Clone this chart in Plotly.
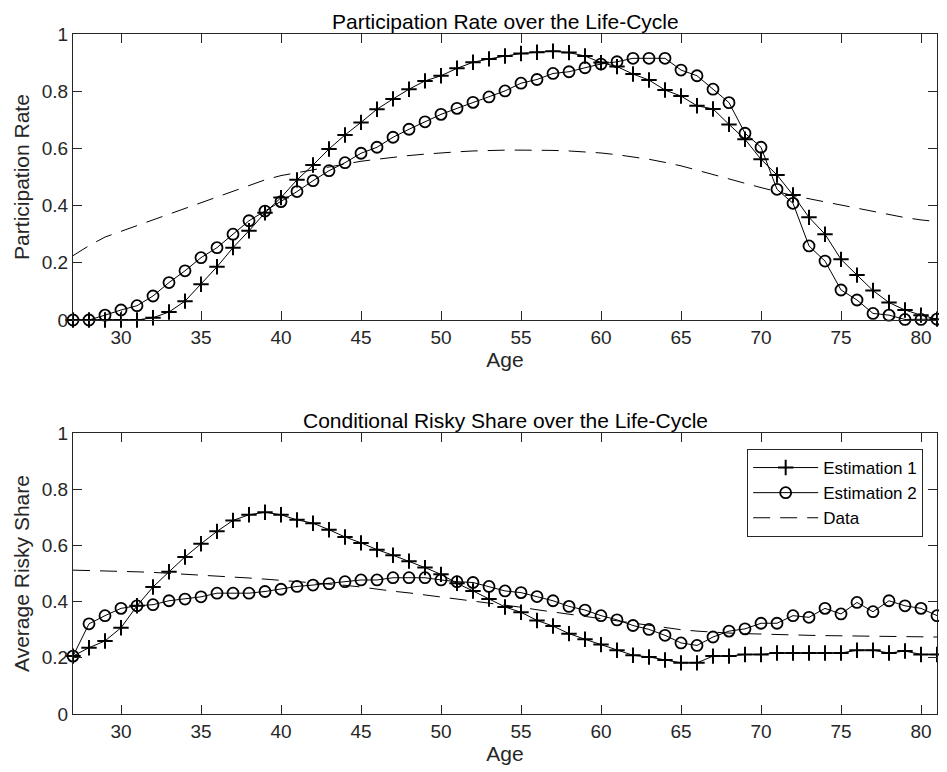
import plotly.graph_objects as go

ages = list(range(27, 82))

# Participation rate (top panel)
part_est1 = [0, 0, 0, 0, 0, 0.008, 0.028, 0.066, 0.125, 0.186,
             0.253, 0.312, 0.375, 0.428, 0.49, 0.542, 0.598, 0.647, 0.691, 0.737,
             0.773, 0.807, 0.836, 0.854, 0.88, 0.901, 0.913, 0.923, 0.932, 0.936,
             0.94, 0.935, 0.923, 0.9, 0.886, 0.86, 0.839, 0.804, 0.783, 0.749,
             0.738, 0.684, 0.632, 0.562, 0.507, 0.437, 0.359, 0.3, 0.212, 0.157,
             0.103, 0.061, 0.035, 0.017, 0.003]
part_est2 = [0, 0, 0.017, 0.035, 0.05, 0.084, 0.131, 0.172, 0.218, 0.253,
             0.3, 0.347, 0.381, 0.414, 0.449, 0.487, 0.522, 0.55, 0.583, 0.604,
             0.639, 0.667, 0.693, 0.719, 0.74, 0.761, 0.78, 0.801, 0.828, 0.841,
             0.862, 0.868, 0.882, 0.895, 0.903, 0.915, 0.915, 0.915, 0.874, 0.854,
             0.807, 0.76, 0.653, 0.604, 0.457, 0.408, 0.259, 0.206, 0.105, 0.07,
             0.023, 0.017, 0.002, 0.002, 0.003]
part_data = [0.225, 0.26, 0.29, 0.31, 0.33, 0.35, 0.37, 0.39, 0.41, 0.43,
             0.45, 0.47, 0.49, 0.505, 0.515, 0.525, 0.535, 0.545, 0.555, 0.562,
             0.569, 0.575, 0.58, 0.585, 0.588, 0.591, 0.593, 0.594, 0.594, 0.594,
             0.593, 0.591, 0.588, 0.584, 0.578, 0.571, 0.562, 0.551, 0.539, 0.524,
             0.508, 0.493, 0.478, 0.463, 0.449, 0.435, 0.424, 0.413, 0.402, 0.39,
             0.378, 0.367, 0.358, 0.35, 0.344]

# Conditional risky share (bottom panel)
share_est1 = [0.206, 0.236, 0.26, 0.307, 0.385, 0.452, 0.506, 0.559, 0.606, 0.65,
              0.689, 0.709, 0.718, 0.709, 0.691, 0.679, 0.656, 0.63, 0.609, 0.585,
              0.565, 0.544, 0.521, 0.497, 0.465, 0.438, 0.409, 0.381, 0.362, 0.333,
              0.313, 0.286, 0.266, 0.247, 0.227, 0.209, 0.203, 0.192, 0.182, 0.182,
              0.206, 0.206, 0.212, 0.212, 0.217, 0.217, 0.217, 0.217, 0.217, 0.227,
              0.227, 0.217, 0.224, 0.212, 0.212]
share_est2 = [0.206, 0.321, 0.35, 0.376, 0.385, 0.389, 0.403, 0.409, 0.417, 0.43,
              0.43, 0.43, 0.436, 0.444, 0.454, 0.459, 0.464, 0.471, 0.477, 0.477,
              0.485, 0.485, 0.485, 0.477, 0.471, 0.468, 0.454, 0.438, 0.432, 0.418,
              0.403, 0.383, 0.37, 0.35, 0.335, 0.315, 0.301, 0.28, 0.253, 0.244,
              0.274, 0.295, 0.303, 0.323, 0.323, 0.35, 0.344, 0.376, 0.356, 0.397,
              0.364, 0.403, 0.385, 0.376, 0.35]
share_data = [0.512, 0.511, 0.51, 0.508, 0.506, 0.504, 0.501, 0.498, 0.495, 0.492,
              0.488, 0.484, 0.48, 0.476, 0.472, 0.468, 0.463, 0.458, 0.452, 0.444,
              0.437, 0.431, 0.424, 0.417, 0.41, 0.403, 0.396, 0.388, 0.38, 0.371,
              0.363, 0.355, 0.347, 0.338, 0.33, 0.322, 0.314, 0.306, 0.3, 0.295,
              0.291, 0.288, 0.286, 0.284, 0.283, 0.281, 0.28, 0.279, 0.278, 0.277,
              0.276, 0.275, 0.275, 0.274, 0.274]

FONT = "Liberation Sans, Arial, sans-serif"
AX = "#262626"

fig = go.Figure()


def add_panel(e1, e2, d, xa, ya, legend):
    fig.add_trace(go.Scatter(
        x=ages, y=e1, xaxis=xa, yaxis=ya, name="Estimation 1", mode="lines+markers",
        line=dict(color="black", width=1),
        marker=dict(symbol="cross-thin", size=11, color="black",
                    line=dict(color="black", width=2)),
        showlegend=legend, cliponaxis=False))
    fig.add_trace(go.Scatter(
        x=ages, y=e2, xaxis=xa, yaxis=ya, name="Estimation 2", mode="lines+markers",
        line=dict(color="black", width=1),
        marker=dict(symbol="circle-open", size=11, color="black",
                    line=dict(color="black", width=1.8)),
        showlegend=legend, cliponaxis=False))
    fig.add_trace(go.Scatter(
        x=ages, y=d, xaxis=xa, yaxis=ya, name="Data", mode="lines",
        line=dict(color="black", width=1, dash="17px,10px"),
        showlegend=legend))


add_panel(part_est1, part_est2, part_data, "x", "y", False)
add_panel(share_est1, share_est2, share_data, "x2", "y2", True)

axis_common = dict(
    showline=True, linecolor=AX, linewidth=1, mirror="ticks",
    ticks="inside", ticklen=9, tickcolor=AX, tickwidth=1,
    showgrid=False, zeroline=False, automargin=False,
    tickfont=dict(family=FONT, size=19, color=AX),
)
title_font = dict(family=FONT, size=21, color=AX)

# page body adds an 8px margin, so the figure is drawn 8px smaller
fig.update_layout(
    width=939, height=764,
    paper_bgcolor="white", plot_bgcolor="white",
    margin=dict(l=65, r=10, t=26, b=58),
    font=dict(family=FONT, size=19, color="black"),
    xaxis=dict(domain=[0, 1], anchor="y", range=[27, 81], dtick=5, tick0=30,
               title=dict(text="Age", standoff=0, font=title_font), **axis_common),
    yaxis=dict(domain=[0.5794, 1], anchor="x", range=[0, 1], dtick=0.2,
               title=dict(text="Participation Rate", standoff=6, font=title_font),
               **axis_common),
    xaxis2=dict(domain=[0, 1], anchor="y2", range=[27, 81], dtick=5, tick0=30,
                title=dict(text="Age", standoff=0, font=title_font), **axis_common),
    yaxis2=dict(domain=[0, 0.4132], anchor="x2", range=[0, 1], dtick=0.2,
                title=dict(text="Average Risky Share", standoff=6, font=title_font),
                **axis_common),
    legend=dict(x=0.984, y=0.3897, xanchor="right", yanchor="top",
                bordercolor=AX, borderwidth=1, bgcolor="white",
                itemwidth=65, tracegroupgap=0,
                font=dict(family=FONT, size=17, color="black")),
    annotations=[
        dict(text="Participation Rate over the Life-Cycle", x=0.5, y=1,
             xref="paper", yref="paper", xanchor="center", yanchor="bottom",
             yshift=-1, showarrow=False, font=dict(family=FONT, size=21, color="black")),
        dict(text="Conditional Risky Share over the Life-Cycle", x=0.5, y=0.4132,
             xref="paper", yref="paper", xanchor="center", yanchor="bottom",
             yshift=-1, showarrow=False, font=dict(family=FONT, size=21, color="black")),
    ],
)

fig.write_html("out.html")
